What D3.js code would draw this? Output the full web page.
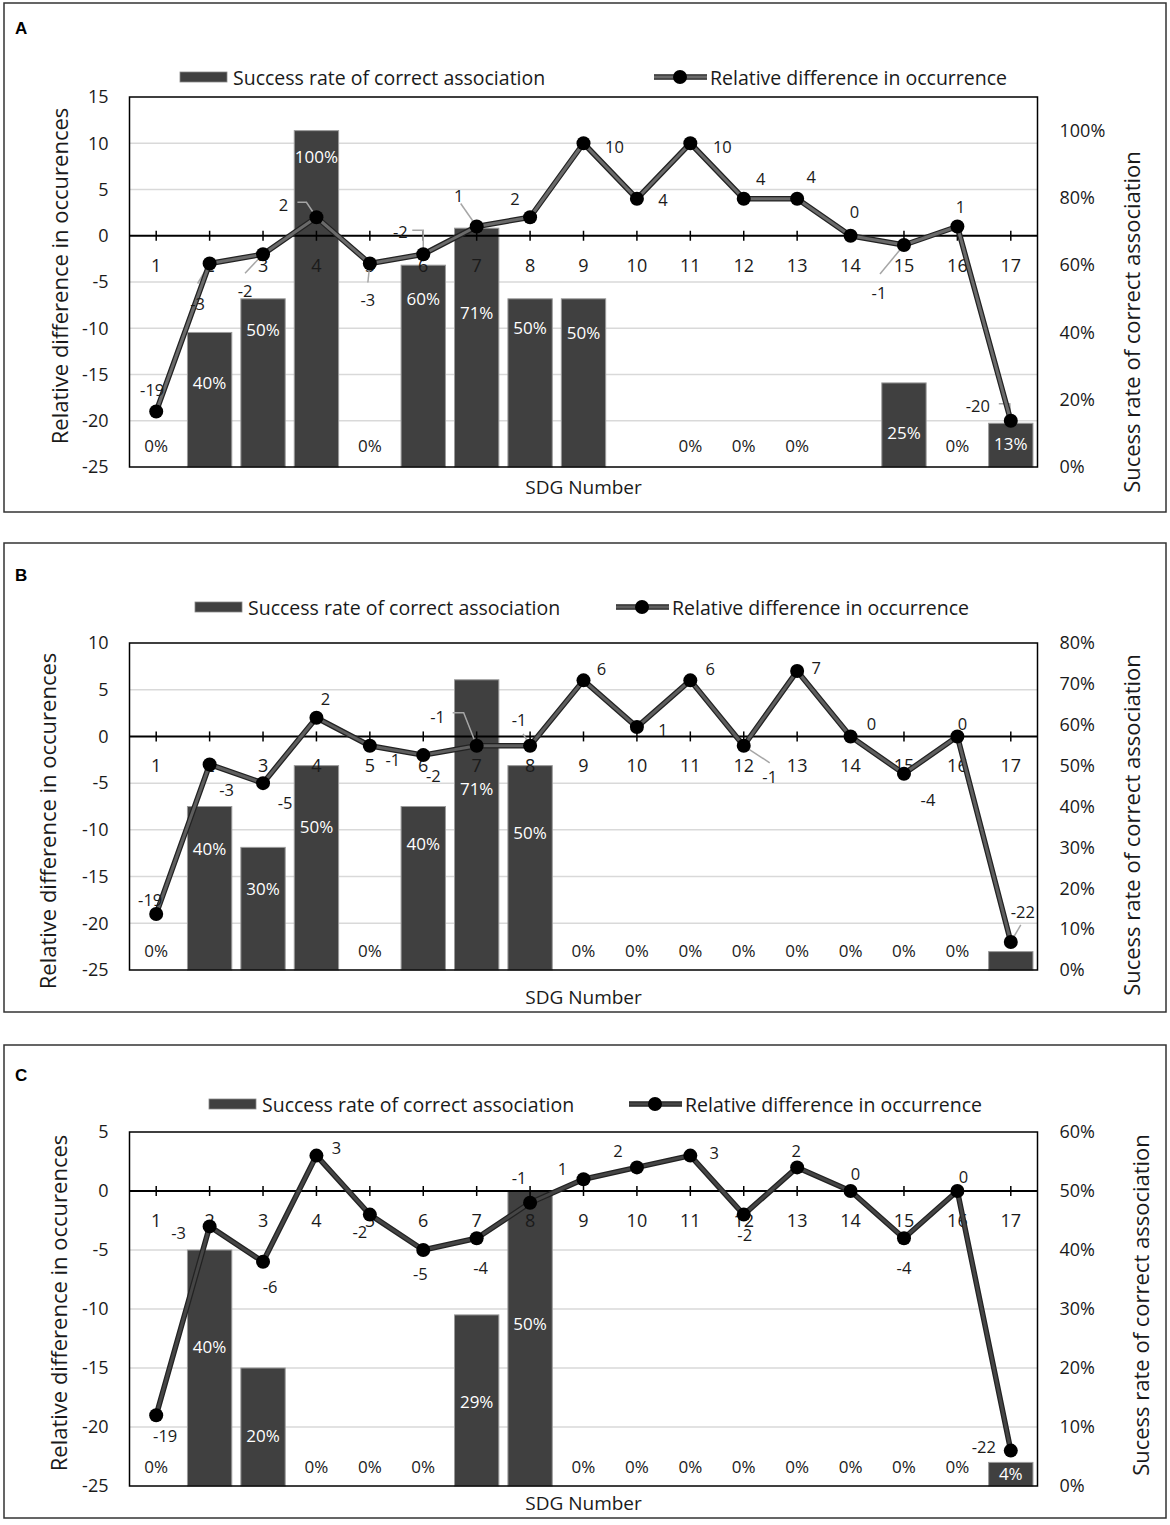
<!DOCTYPE html>
<html>
<head>
<meta charset="utf-8">
<script src="https://cdn.jsdelivr.net/npm/d3@7"></script>
<style>
  body { margin: 0; background: #fff; }
  svg { display: block; font-family: "Open Sans", sans-serif; }
</style>
</head>
<body>
<script>
// categories
var sdg = ['1','2','3','4','5','6','7','8','9','10','11','12','13','14','15','16','17'];

// panel A
var successA = [0, 0.40, 0.50, 1.00, 0, 0.60, 0.71, 0.50, 0.50, 0, 0, 0, 0, 0, 0.25, 0, 0.13];
var diffA = [-19, -3, -2, 2, -3, -2, 1, 2, 10, 4, 10, 4, 4, 0, -1, 1, -20];
var leftTicksA = [15, 10, 5, 0, -5, -10, -15, -20, -25];
var rightTicksA = [0, 0.2, 0.4, 0.6, 0.8, 1.0];

// panel B
var successB = [0, 0.40, 0.30, 0.50, 0, 0.40, 0.71, 0.50, 0, 0, 0, 0, 0, 0, 0, 0, 0.045];
var diffB = [-19, -3, -5, 2, -1, -2, -1, -1, 6, 1, 6, -1, 7, 0, -4, 0, -22];
var leftTicksB = [10, 5, 0, -5, -10, -15, -20, -25];
var rightTicksB = [0, 0.1, 0.2, 0.3, 0.4, 0.5, 0.6, 0.7, 0.8];

// panel C
var successC = [0, 0.40, 0.20, 0, 0, 0, 0.29, 0.50, 0, 0, 0, 0, 0, 0, 0, 0, 0.04];
var diffC = [-19, -3, -6, 3, -2, -5, -4, -1, 1, 2, 3, -2, 2, 0, -4, 0, -22];
var leftTicksC = [5, 0, -5, -10, -15, -20, -25];
var rightTicksC = [0, 0.1, 0.2, 0.3, 0.4, 0.5, 0.6];

var barName = 'Success rate of correct association',
    lineName = 'Relative difference in occurrence';

// layout of each panel (label nudges are in px)
var panels = [
  {letter: 'A', success: successA, diff: diffA, left: leftTicksA, right: rightTicksA, rightMax: 1.1,
   box: [4, 3, 1162, 509], plot: [97, 467], letterY: 28, legendY: 77, legBar: 180, legLine: 654,
   xTitleY: 487, yTitle: [59, 276], y2Title: [1131, 322],
   barLbl: [-22, 50, 31, 26, -22, 33, 84, 29, 34, null, -22, -22, -22, null, 50, -22, 20],
   ptLbl: [[-4,-22],[-12,40],[-18,36],[-33,-13],[-2,36],[-23,-23],[-18,-31],[-15,-19],[31,3],[26,1],[32,3],[17,-20],[14,-22],[4,-24],[-25,47],[3,-20],[-33,-15]],
   leaders: {1: [[-12,20],[0,0]], 2: [[-18,19],[0,0]], 3: [[-19,-15],[-10,-15],[0,0]], 4: [[-2,19],[0,0]],
             5: [[-11,-24],[0,-24],[0,0]], 6: [[-16,-23],[0,0]], 14: [[-24,29],[0,0]], 16: [[-12,-17],[-1,-17],[0,0]]},
   lineColor: '#6a6a6a'},
  {letter: 'B', success: successB, diff: diffB, left: leftTicksB, right: rightTicksB, rightMax: 0.8,
   box: [4, 543, 1162, 469], plot: [643, 970], letterY: 575, legendY: 607, legBar: 195, legLine: 616,
   xTitleY: 997, yTitle: [47, 821], y2Title: [1131, 825],
   barLbl: [-20, 42, 41, 61, -20, 37, 109, 67, -20, -20, -20, -20, -20, -20, -20, -20, null],
   ptLbl: [[-6,-14],[17,25],[22,19],[9,-19],[23,14],[10,20],[-39,-29],[-11,-26],[18,-12],[26,2],[20,-12],[26,31],[19,-4],[21,-13],[24,26],[5,-13],[12,-30]],
   leaders: {6: [[-24,-33],[-13,-33],[0,0]], 7: [[-7,-12],[0,0]], 11: [[26,17],[0,0]], 16: [[10,-17],[0,0]]},
   lineColor: '#5e5e5e'},
  {letter: 'C', success: successC, diff: diffC, left: leftTicksC, right: rightTicksC, rightMax: 0.6,
   box: [4, 1045, 1162, 473], plot: [1132, 1486], letterY: 1075, legendY: 1104, legBar: 209, legLine: 629,
   xTitleY: 1503, yTitle: [58, 1303], y2Title: [1140, 1305],
   barLbl: [-20, 96, 67, -20, -20, -20, 87, 132, -20, -20, -20, -20, -20, -20, -20, -20, 11],
   ptLbl: [[9,20],[-31,6],[7,25],[20,-8],[-10,17],[-3,23],[4,29],[-11,-25],[-21,-11],[-19,-17],[24,-3],[1,20],[-1,-17],[5,-18],[0,29],[6,-15],[-27,-4]],
   leaders: {},
   lineColor: '#454545'}
];

var plotL = 129.5, plotR = 1037.5;
var pct = d3.format('.0%');
var plain = function(d) { return String(d); };

var svg = d3.select('body').append('svg').attr('width', 1170).attr('height', 1525);

panels.forEach(drawPanel);

function drawPanel(p) {
  var g = svg.append('g'),
      top = p.plot[0], bottom = p.plot[1];

  var x = d3.scaleBand().domain(sdg).range([plotL, plotR]).paddingInner(0.17).paddingOuter(0.085);
  var y = d3.scaleLinear().domain([p.left[p.left.length - 1], p.left[0]]).range([bottom, top]);
  var y2 = d3.scaleLinear().domain([0, p.rightMax]).range([bottom, top]);
  var cx = function(i) { return x(sdg[i]) + x.bandwidth() / 2; };

  // outer frame
  g.append('rect').attr('x', p.box[0]).attr('y', p.box[1]).attr('width', p.box[2]).attr('height', p.box[3])
    .attr('fill', 'none').attr('stroke', '#333').attr('stroke-width', 1.5);
  g.append('text').attr('x', 15).attr('y', p.letterY).attr('dominant-baseline', 'central')
    .style('font-family', '"Liberation Sans", Arial, sans-serif').style('font-weight', 'bold').style('font-size', '17px')
    .text(p.letter);

  // legend
  g.append('rect').attr('x', p.legBar).attr('y', p.legendY - 5).attr('width', 47).attr('height', 10)
    .attr('fill', '#404040').attr('stroke', '#888').attr('stroke-width', 0.8);
  g.append('text').attr('x', p.legBar + 53).attr('y', p.legendY).attr('dominant-baseline', 'central')
    .style('font-size', '19.5px').attr('fill', '#1a1a1a').text(barName);
  g.append('line').attr('x1', p.legLine).attr('x2', p.legLine + 53).attr('y1', p.legendY).attr('y2', p.legendY)
    .attr('stroke', '#222').attr('stroke-width', 5.5);
  g.append('line').attr('x1', p.legLine).attr('x2', p.legLine + 53).attr('y1', p.legendY).attr('y2', p.legendY)
    .attr('stroke', p.lineColor).attr('stroke-width', 3);
  g.append('circle').attr('cx', p.legLine + 26).attr('cy', p.legendY).attr('r', 7).attr('fill', '#000');
  g.append('text').attr('x', p.legLine + 56).attr('y', p.legendY).attr('dominant-baseline', 'central')
    .style('font-size', '19.5px').attr('fill', '#1a1a1a').text(lineName);

  // gridlines
  g.selectAll('.grid').data(p.left.filter(function(t) { return t !== 0 && t !== p.left[0] && t !== p.left[p.left.length - 1]; }))
    .enter().append('line')
    .attr('x1', plotL).attr('x2', plotR)
    .attr('y1', function(d) { return y(d); }).attr('y2', function(d) { return y(d); })
    .attr('stroke', '#d9d9d9').attr('stroke-width', 1.5);

  // bars
  g.selectAll('.bar').data(p.success.map(function(v, i) { return {v: v, i: i}; }).filter(function(d) { return d.v > 0; }))
    .enter().append('rect')
    .attr('x', function(d) { return x(sdg[d.i]); })
    .attr('width', x.bandwidth())
    .attr('y', function(d) { return y2(d.v); })
    .attr('height', function(d) { return bottom - y2(d.v); })
    .attr('fill', '#404040').attr('stroke', '#9a9a9a').attr('stroke-width', 1);

  // plot frame
  g.append('rect').attr('x', plotL).attr('y', top).attr('width', plotR - plotL).attr('height', bottom - top)
    .attr('fill', 'none').attr('stroke', '#000').attr('stroke-width', 1.5);

  // left axis
  var ax = g.append('g').attr('transform', 'translate(' + plotL + ',0)')
    .call(d3.axisLeft(y).tickValues(p.left).tickSize(0).tickPadding(21).tickFormat(plain));
  ax.select('.domain').remove();
  ax.selectAll('text').style('font-size', '18px').style('font-family', '"Open Sans", sans-serif').attr('fill', '#1a1a1a');

  // right axis
  var ax2 = g.append('g').attr('transform', 'translate(' + plotR + ',0)')
    .call(d3.axisRight(y2).tickValues(p.right).tickSize(0).tickPadding(22).tickFormat(pct));
  ax2.select('.domain').remove();
  ax2.selectAll('text').style('font-size', '18px').style('font-family', '"Open Sans", sans-serif').attr('fill', '#1a1a1a');

  // zero axis with crossing ticks and category labels
  var y0 = y(0);
  g.append('line').attr('x1', plotL).attr('x2', plotR).attr('y1', y0).attr('y2', y0)
    .attr('stroke', '#000').attr('stroke-width', 2);
  g.selectAll('.tk').data(sdg).enter().append('line')
    .attr('x1', function(d) { return x(d) + x.bandwidth() / 2; })
    .attr('x2', function(d) { return x(d) + x.bandwidth() / 2; })
    .attr('y1', y0 - 5).attr('y2', y0 + 5)
    .attr('stroke', '#000').attr('stroke-width', 1.5);
  var axb = g.append('g').attr('transform', 'translate(0,' + y0 + ')')
    .call(d3.axisBottom(x).tickSize(0).tickPadding(23));
  axb.select('.domain').remove();
  axb.selectAll('text').style('font-size', '18px').style('font-family', '"Open Sans", sans-serif').attr('fill', '#1a1a1a');

  // axis titles
  g.append('text').attr('x', (plotL + plotR) / 2).attr('y', p.xTitleY).attr('text-anchor', 'middle')
    .attr('dominant-baseline', 'central').style('font-size', '19px').attr('fill', '#1a1a1a').text('SDG Number');
  g.append('text').attr('transform', 'translate(' + p.yTitle[0] + ',' + p.yTitle[1] + ') rotate(-90)')
    .attr('text-anchor', 'middle').attr('dominant-baseline', 'central').style('font-size', '22px').attr('fill', '#1a1a1a')
    .text('Relative difference in occurences');
  g.append('text').attr('transform', 'translate(' + p.y2Title[0] + ',' + p.y2Title[1] + ') rotate(-90)')
    .attr('text-anchor', 'middle').attr('dominant-baseline', 'central').style('font-size', '22px').attr('fill', '#1a1a1a')
    .text('Sucess rate of correct association');

  // bar labels
  g.selectAll('.bl').data(p.success.map(function(v, i) { return {v: v, i: i, dy: p.barLbl[i]}; }).filter(function(d) { return d.dy !== null; }))
    .enter().append('text')
    .attr('x', function(d) { return cx(d.i); })
    .attr('y', function(d) { return y2(d.v) + d.dy; })
    .attr('text-anchor', 'middle').attr('dominant-baseline', 'central')
    .style('font-size', '17px')
    .attr('fill', function(d) { return d.v > 0 ? '#fff' : '#1a1a1a'; })
    .text(function(d) { return pct(d.v); });

  // leader lines
  Object.keys(p.leaders).forEach(function(k) {
    var i = +k;
    g.append('path')
      .attr('d', d3.line()(p.leaders[k].map(function(o) { return [cx(i) + o[0], y(p.diff[i]) + o[1]]; })))
      .attr('fill', 'none').attr('stroke', '#a6a6a6').attr('stroke-width', 1.5);
  });

  // line series
  var line = d3.line().x(function(d, i) { return cx(i); }).y(function(d) { return y(d); });
  g.append('path').attr('d', line(p.diff)).attr('fill', 'none').attr('stroke', '#222').attr('stroke-width', 5.5)
    .attr('stroke-linejoin', 'round');
  g.append('path').attr('d', line(p.diff)).attr('fill', 'none').attr('stroke', p.lineColor).attr('stroke-width', 3)
    .attr('stroke-linejoin', 'round');
  g.selectAll('.pt').data(p.diff).enter().append('circle')
    .attr('cx', function(d, i) { return cx(i); }).attr('cy', function(d) { return y(d); })
    .attr('r', 7).attr('fill', '#000');

  // point labels
  g.selectAll('.pl').data(p.diff).enter().append('text')
    .attr('x', function(d, i) { return cx(i) + p.ptLbl[i][0]; })
    .attr('y', function(d, i) { return y(d) + p.ptLbl[i][1]; })
    .attr('text-anchor', 'middle').attr('dominant-baseline', 'central')
    .style('font-size', '16.5px').attr('fill', '#1a1a1a')
    .text(function(d) { return d; });
}
</script>
</body>
</html>
